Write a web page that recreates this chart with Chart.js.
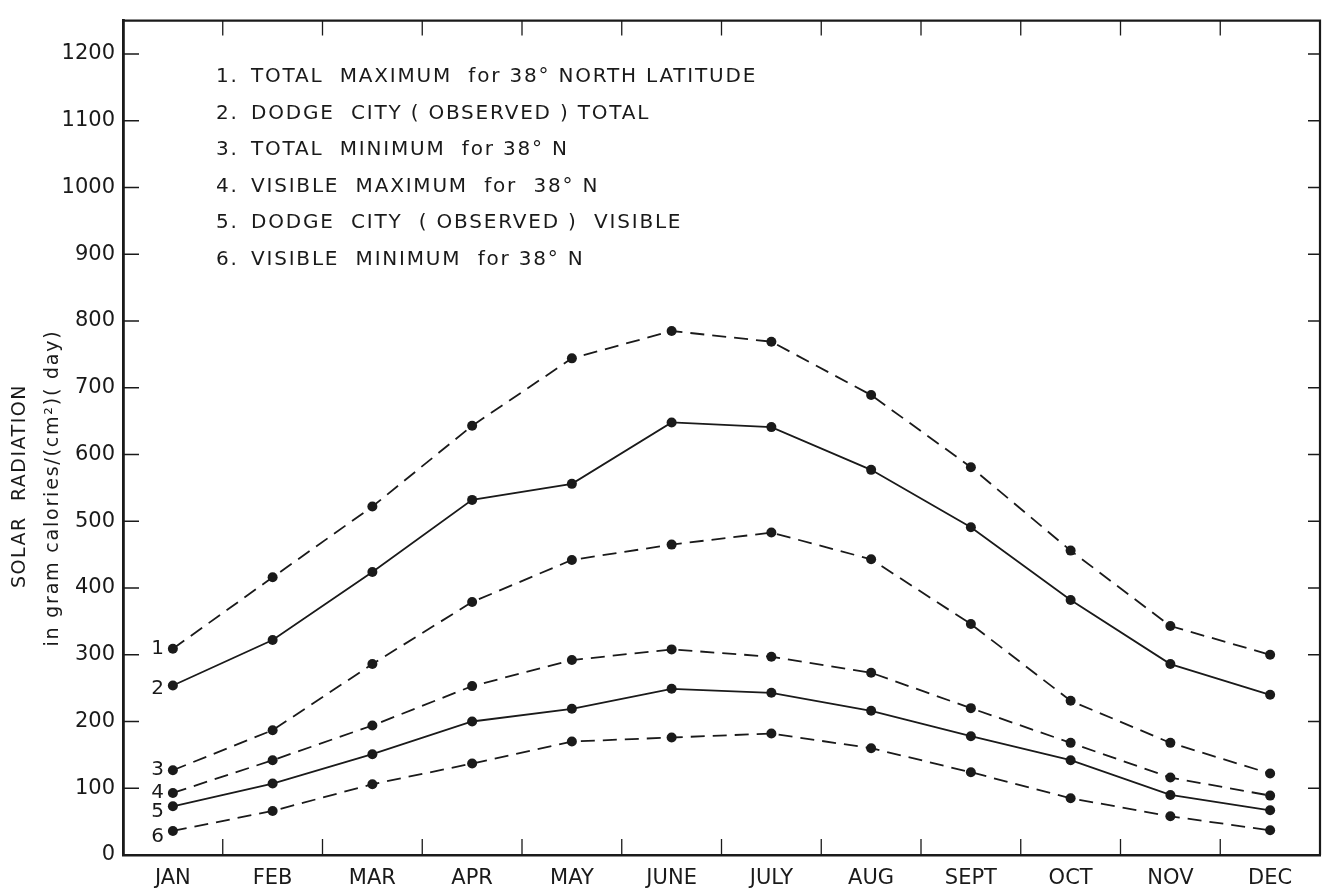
<!DOCTYPE html>
<html>
<head>
<meta charset="utf-8">
<script src="https://cdn.jsdelivr.net/npm/chart.js@4.4.1/dist/chart.umd.min.js"></script>
<style>
  html, body { margin: 0; padding: 0; background: #ffffff; }
  #wrap { width: 1325px; height: 891px; }
</style>
</head>
<body>
<div id="wrap"><canvas id="c" width="1325" height="891"></canvas></div>
<script>
// ---- data ----
const months = ['JAN', 'FEB', 'MAR', 'APR', 'MAY', 'JUNE', 'JULY', 'AUG', 'SEPT', 'OCT', 'NOV', 'DEC'];
const totalMaximum   = [309, 416, 522, 643, 744, 785, 769, 689, 581, 456, 343, 300];
const dodgeTotal     = [254, 322, 424, 532, 556, 648, 641, 577, 491, 382, 286, 240];
const totalMinimum   = [127, 187, 286, 379, 442, 465, 483, 443, 346, 231, 168, 122];
const visibleMaximum = [93, 142, 194, 253, 292, 308, 297, 273, 220, 168, 116, 89];
const dodgeVisible   = [73, 107, 151, 200, 219, 249, 243, 216, 178, 142, 90, 67];
const visibleMinimum = [36, 66, 106, 137, 170, 176, 182, 160, 124, 85, 58, 37];
const seriesNumbers  = ['1', '2', '3', '4', '5', '6'];
const seriesNames = [
  'TOTAL  MAXIMUM  for 38° NORTH LATITUDE',
  'DODGE  CITY ( OBSERVED ) TOTAL',
  'TOTAL  MINIMUM  for 38° N',
  'VISIBLE  MAXIMUM  for  38° N',
  'DODGE  CITY  ( OBSERVED )  VISIBLE',
  'VISIBLE  MINIMUM  for 38° N'
];
const yTickValues = [0, 100, 200, 300, 400, 500, 600, 700, 800, 900, 1000, 1100, 1200];
const yTitleLines = ['SOLAR  RADIATION', 'in gram calories/(cm²)( day)'];

const INK = '#1a1a1a';
const FONT = '"DejaVu Sans", "Liberation Sans", sans-serif';
const seriesValues = [totalMaximum, dodgeTotal, totalMinimum, visibleMaximum, dodgeVisible, visibleMinimum];
const dashed = [true, false, true, true, false, true];
const labelNudge = [0, 3, 0, 0, 6, 6];

const datasets = seriesValues.map((vals, i) => ({
  label: seriesNames[i],
  data: vals,
  borderColor: INK,
  backgroundColor: INK,
  borderWidth: 1.8,
  borderDash: dashed[i] ? [14, 8] : [],
  pointRadius: 5,
  pointBorderWidth: 0,
  pointBackgroundColor: INK,
  tension: 0,
  fill: false
}));

const decor = {
  id: 'decor',
  afterDraw(chart) {
    const ctx = chart.ctx;
    const a = chart.chartArea;
    const xs = chart.scales.x, ys = chart.scales.y;
    ctx.save();
    // top and right frame
    ctx.strokeStyle = INK;
    ctx.lineWidth = 2.2;
    ctx.beginPath();
    ctx.moveTo(a.left - 1, a.top);
    ctx.lineTo(a.right, a.top);
    ctx.lineTo(a.right, a.bottom);
    ctx.stroke();
    // inward ticks on y (left and right)
    ctx.lineWidth = 1.6;
    yTickValues.forEach(v => {
      if (v === 0) return;
      const y = ys.getPixelForValue(v);
      ctx.beginPath();
      ctx.moveTo(a.left, y); ctx.lineTo(a.left + 16, y);
      ctx.moveTo(a.right, y); ctx.lineTo(a.right - 12, y);
      ctx.stroke();
    });
    // inward ticks on x (bottom and top), between months
    ctx.lineWidth = 1.3;
    for (let i = 0; i < months.length - 1; i++) {
      const x = (xs.getPixelForValue(i) + xs.getPixelForValue(i + 1)) / 2;
      ctx.beginPath();
      ctx.moveTo(x, a.bottom); ctx.lineTo(x, a.bottom - 16);
      ctx.moveTo(x, a.top); ctx.lineTo(x, a.top + 15);
      ctx.stroke();
    }
    // series numbers at the JAN points
    ctx.fillStyle = INK;
    ctx.font = '20px ' + FONT;
    ctx.textAlign = 'right';
    ctx.textBaseline = 'middle';
    chart.data.datasets.forEach((ds, i) => {
      const p = chart.getDatasetMeta(i).data[0];
      ctx.fillText(seriesNumbers[i], p.x - 9, p.y + labelNudge[i]);
    });
    // legend text block
    ctx.font = '20px ' + FONT;
    ctx.textAlign = 'left';
    ctx.letterSpacing = '1.8px';
    seriesNames.forEach((name, i) => {
      const y = 77 + i * 36.5;
      ctx.fillText(seriesNumbers[i] + '.', 216, y);
      ctx.fillText(name, 251, y);
    });
    // y axis title (two lines, rotated)
    ctx.textAlign = 'center';
    ctx.translate(20, 486);
    ctx.rotate(-Math.PI / 2);
    ctx.font = '19px ' + FONT;
    ctx.letterSpacing = '1.5px';
    ctx.fillText(yTitleLines[0], 0, 0);
    ctx.font = '19px ' + FONT;
    ctx.letterSpacing = '1.8px';
    ctx.fillText(yTitleLines[1], -2, 33);
    ctx.restore();
  }
};

new Chart(document.getElementById('c'), {
  type: 'line',
  data: { labels: months, datasets },
  options: {
    responsive: false,
    animation: false,
    layout: { padding: { top: 11, right: 2, left: 0, bottom: 0 } },
    plugins: { legend: { display: false }, tooltip: { enabled: false } },
    scales: {
      x: {
        type: 'category',
        offset: true,
        grid: { display: false, drawTicks: false },
        border: { display: true, color: INK, width: 2.6 },
        ticks: { color: INK, font: { family: FONT, size: 21 }, padding: 11, maxRotation: 0, autoSkip: false },
        afterFit(s) { s.height = 36; }
      },
      y: {
        min: 0,
        max: 1250,
        grid: { display: false, drawTicks: false },
        border: { display: true, color: INK, width: 2.8 },
        ticks: {
          stepSize: 100, includeBounds: false, color: INK,
          font: { family: FONT, size: 21 }, padding: 8,
          callback: v => String(v)
        },
        afterBuildTicks(s) { s.ticks = yTickValues.map(v => ({ value: v })); },
        afterFit(s) { s.width = 123; }
      }
    }
  },
  plugins: [decor]
});
</script>
</body>
</html>
